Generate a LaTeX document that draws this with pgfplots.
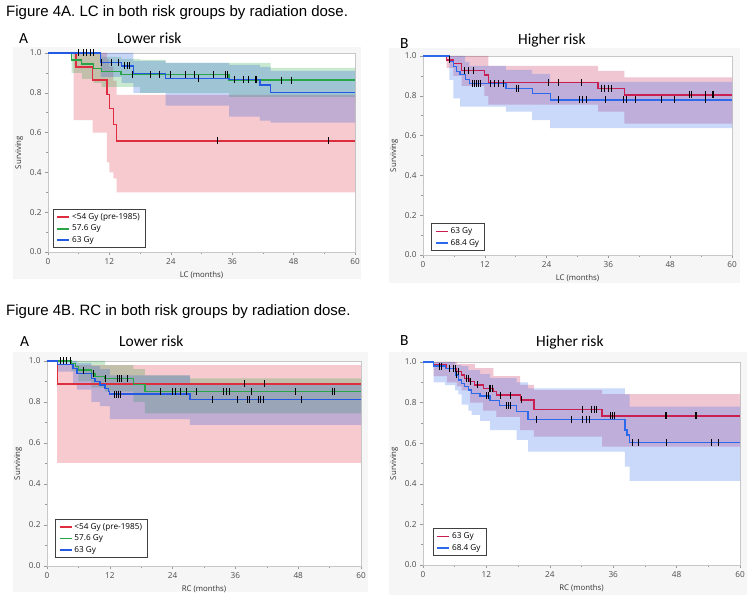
\documentclass[border=0pt]{standalone}
\usepackage{fontspec}
\setmainfont{Liberation Sans}
\newfontfamily\osans{Open Sans}
\newfontfamily\carl{Carlito}
\usepackage{pgfplots}
\pgfplotsset{compat=1.18}

\definecolor{kmred}{RGB}{222,45,62}
\definecolor{kmgreen}{RGB}{40,165,70}
\definecolor{kmblue}{RGB}{35,90,225}
\definecolor{hired}{RGB}{200,30,80}
\definecolor{hiblue}{RGB}{45,105,235}
\definecolor{panelbg}{RGB}{246,246,246}

\pgfplotsset{
  km/.style={scale only axis, xmin=0, xmax=60, ymin=0, ymax=1,
    xtick={0,12,24,36,48,60}, ytick={0,0.2,0.4,0.6,0.8,1},
    minor x tick num=1, minor y tick num=1,
    tick align=outside, tick pos=left,
    major tick length=3pt, minor tick length=2pt,
    axis line style={black!22}, tick style={black!40, line width=0.5pt},
    axis background/.style={fill=white},
    yticklabel style={/pgf/number format/.cd, fixed, fixed zerofill, precision=1},
    /pgf/number format/assume math mode=true,
    ticklabel style={font=\osans\fontsize{8.2}{9}\selectfont, text=black!70},
    label style={font=\osans\fontsize{7.8}{9}\selectfont, text=black!80},
    ylabel={Surviving},
    legend cell align=left,
    legend style={draw=black!75, line width=0.8pt, font=\osans\fontsize{8.2}{9}\selectfont,
      inner xsep=3.5pt, inner ysep=2pt, row sep=0pt, anchor=south west, fill=white},
    legend image code/.code={\draw[#1, line width=1.7pt] (0pt,0pt) -- (12pt,0pt);},
  },
  curve/.style={const plot, line width=1.35pt},
  band/.style={draw=none, fill opacity=0.25, forget plot},
  cens/.style={only marks, mark=|, mark size=3.5pt, black, mark options={line width=0.8pt}, forget plot},
}

\begin{document}
\begin{tikzpicture}
\path (0,0) rectangle (754pt,604pt);
% panel backgrounds
\fill[panelbg] (13pt,325pt) rectangle (361pt,557pt);
\fill[panelbg] (389pt,321pt) rectangle (740pt,556pt);
\fill[panelbg] (13pt,12pt) rectangle (368pt,252pt);
\fill[panelbg] (389pt,9pt) rectangle (747pt,252pt);

% captions
\node[anchor=base west, inner sep=0, font=\fontsize{15}{18}\selectfont] at (6pt,587pt) {Figure 4A. LC in both risk groups by radiation dose.};
\node[anchor=base west, inner sep=0, font=\fontsize{15}{18}\selectfont] at (6pt,288pt) {Figure 4B. RC in both risk groups by radiation dose.};
\node[anchor=base west, inner sep=0, font=\carl\fontsize{15.5}{18}\selectfont] at (19pt,560pt) {A};
\node[anchor=base west, inner sep=0, font=\carl\fontsize{15.5}{18}\selectfont] at (117pt,560pt) {Lower risk};
\node[anchor=base west, inner sep=0, font=\carl\fontsize{15.5}{18}\selectfont] at (400pt,555pt) {B};
\node[anchor=base west, inner sep=0, font=\carl\fontsize{15.5}{18}\selectfont] at (518pt,559pt) {Higher risk};
\node[anchor=base west, inner sep=0, font=\carl\fontsize{15.5}{18}\selectfont] at (20pt,257pt) {A};
\node[anchor=base west, inner sep=0, font=\carl\fontsize{15.5}{18}\selectfont] at (119pt,257pt) {Lower risk};
\node[anchor=base west, inner sep=0, font=\carl\fontsize{15.5}{18}\selectfont] at (400pt,258pt) {B};
\node[anchor=base west, inner sep=0, font=\carl\fontsize{15.5}{18}\selectfont] at (536pt,257pt) {Higher risk};

% ===== 4A lower risk =====
\begin{axis}[km, at={(48pt,352pt)}, anchor=south west, width=307pt, height=199pt,
  xlabel={LC (months)}, legend style={at={(0.015,0.019)}}]
% 95% bands (step outlines: upper forward, lower back)
\addplot[band, fill=kmred] coordinates {(0,1) (11.5,1) (11.5,0.97) (12,0.97) (12,0.93) (12.8,0.93) (12.8,0.86) (13.4,0.86) (13.4,0.79) (60,0.79)
  (60,0.30) (13.4,0.30) (13.4,0.37) (12.8,0.37) (12.8,0.40) (12,0.40) (12,0.45) (11.5,0.45) (11.5,0.60) (8.7,0.60) (8.7,0.663) (5,0.663) (5,1)} -- cycle;
\addplot[band, fill=kmgreen] coordinates {(0,1) (10.5,1) (10.5,0.98) (14.3,0.98) (14.3,0.97) (18,0.97) (18,0.965) (23,0.965) (23,0.95) (43.5,0.95) (43.5,0.925) (60,0.925)
  (60,0.78) (35.4,0.78) (35.4,0.80) (18,0.80) (18,0.83) (10.5,0.83) (10.5,0.85) (8.9,0.85) (8.9,0.87) (6.6,0.87) (6.6,0.90) (4.6,0.90) (4.6,1)} -- cycle;
\addplot[band, fill=kmblue] coordinates {(0,1) (16.7,1) (16.7,0.96) (23,0.96) (23,0.95) (35.4,0.95) (35.4,0.94) (41.4,0.94) (41.4,0.93) (43.5,0.93) (43.5,0.91) (60,0.91)
  (60,0.65) (43.5,0.65) (43.5,0.66) (41.4,0.66) (41.4,0.68) (35.4,0.68) (35.4,0.735) (23,0.735) (23,0.80) (16.7,0.80) (16.7,0.85) (14.4,0.85) (14.4,0.88) (10.3,0.88) (10.3,1)} -- cycle;
\addplot[curve, draw=kmred] coordinates {(0,1) (5.5,0.93) (8.7,0.864) (11.5,0.79) (12.0,0.72) (12.8,0.64) (13.4,0.558) (60,0.558)};
\addlegendentry{<54 Gy (pre-1985)}
\addplot[curve, draw=kmgreen] coordinates {(0,1) (4.6,0.965) (6.6,0.945) (8.9,0.923) (10.5,0.906) (14.3,0.893) (35.4,0.864) (60,0.864)};
\addlegendentry{57.6 Gy}
\addplot[curve, draw=kmblue] coordinates {(0,1) (10.3,0.953) (14.4,0.935) (16.7,0.898) (23,0.873) (35.4,0.868) (41.4,0.839) (43.5,0.803) (60,0.803)};
\addlegendentry{63 Gy}
\addplot[cens] coordinates {(5.9,1) (6.9,1) (7.6,1) (8.2,1) (8.9,1) (10.5,0.953) (12.4,0.953) (13.7,0.953)
  (15.0,0.935) (15.5,0.935) (16.0,0.935) (16.4,0.893) (20.1,0.893) (21.8,0.893) (24.0,0.893) (26.8,0.893)
  (28.7,0.893) (32.3,0.893) (34.6,0.893) (35.1,0.893) (29.4,0.873) (36.4,0.868) (38.2,0.868) (39.1,0.868)
  (40.5,0.868) (40.8,0.868) (45.7,0.864) (47.6,0.864) (33.1,0.558) (54.8,0.558)};
\end{axis}

% ===== 4A higher risk =====
\begin{axis}[km, at={(423pt,349pt)}, anchor=south west, width=309pt, height=199pt,
  xlabel={LC (months)}, legend style={at={(0.026,0.02)}}]
\addplot[band, fill=hired] coordinates {(0,1) (12.7,1) (12.7,0.95) (34,0.95) (34,0.925) (39.1,0.925) (39.1,0.893) (60,0.893)
  (60,0.66) (39.1,0.66) (39.1,0.72) (34,0.72) (34,0.755) (12.7,0.755) (12.7,0.80) (11.9,0.80) (11.9,0.85) (7.5,0.85) (7.5,0.90) (5.9,0.90) (5.9,0.94) (4.6,0.94) (4.6,1)} -- cycle;
\addplot[band, fill=hiblue] coordinates {(0,1) (8.2,1) (8.2,0.97) (9,0.97) (9,0.95) (16.1,0.95) (16.1,0.93) (21.2,0.93) (21.2,0.91) (24.7,0.91) (24.7,0.87) (60,0.87)
  (60,0.637) (24.7,0.637) (24.7,0.678) (21.2,0.678) (21.2,0.72) (16.1,0.72) (16.1,0.745) (7.2,0.745) (7.2,0.787) (5.9,0.787) (5.9,0.88) (5.1,0.88) (5.1,1)} -- cycle;
\addplot[curve, draw=hired] coordinates {(0,1) (4.6,0.98) (5.9,0.963) (7.5,0.926) (11.9,0.905) (12.7,0.868) (34.0,0.838) (39.1,0.804) (60,0.804)};
\addlegendentry{63 Gy}
\addplot[curve, draw=hiblue] coordinates {(0,1) (5.1,0.971) (5.9,0.946) (6.5,0.921) (7.2,0.908) (8.2,0.883) (9.0,0.863) (16.1,0.838) (21.2,0.813) (24.7,0.779) (60,0.779)};
\addlegendentry{68.4 Gy}
\addplot[cens] coordinates {(5.1,0.98) (8.0,0.926) (8.9,0.926) (9.8,0.926) (9.5,0.863) (9.9,0.863) (10.3,0.863)
  (10.7,0.863) (11.2,0.863) (13.0,0.863) (13.8,0.863) (14.6,0.863) (15.6,0.863) (18.1,0.838) (18.5,0.838)
  (24.3,0.868) (26.2,0.868) (30.7,0.868) (34.7,0.838) (35.3,0.838) (36.0,0.838) (36.6,0.838)
  (26.2,0.779) (30.4,0.779) (31.0,0.779) (31.8,0.779) (35.5,0.779) (38.9,0.779) (39.5,0.779) (41.2,0.779)
  (46.2,0.779) (48.9,0.779) (54.8,0.779) (51.8,0.804) (52.2,0.804) (54.8,0.804) (56.1,0.804) (56.3,0.804)};
\end{axis}

% ===== 4B lower risk =====
\begin{axis}[km, at={(47pt,38pt)}, anchor=south west, width=314pt, height=205pt,
  xlabel={RC (months)}, legend style={at={(0.025,0.039)}}]
\addplot[band, fill=kmred] coordinates {(2,0.98) (60,0.98) (60,0.50) (2,0.50)} -- cycle;
\addplot[band, fill=kmgreen] coordinates {(0,1) (11.1,1) (11.1,0.98) (16.5,0.98) (16.5,0.96) (18.7,0.96) (18.7,0.93) (27.3,0.93) (27.3,0.915) (60,0.915)
  (60,0.745) (18.7,0.745) (18.7,0.80) (16.5,0.80) (16.5,0.85) (11.1,0.85) (11.1,0.87) (8.5,0.87) (8.5,0.90) (6,0.90) (6,0.95) (4.7,0.95) (4.7,1)} -- cycle;
\addplot[band, fill=kmblue] coordinates {(0,1) (5.7,1) (5.7,0.99) (8.5,0.99) (8.5,0.975) (10.1,0.975) (10.1,0.96) (12,0.96) (12,0.93) (27.3,0.93) (27.3,0.888) (60,0.888)
  (60,0.688) (27.3,0.688) (27.3,0.717) (12,0.717) (12,0.78) (10.1,0.78) (10.1,0.80) (8.5,0.80) (8.5,0.86) (5.7,0.86) (5.7,0.89) (5,0.89) (5,0.948) (2,0.948) (2,1)} -- cycle;
\addplot[curve, draw=kmred] coordinates {(0,1) (2.0,0.888) (60,0.888)};
\addlegendentry{<54 Gy (pre-1985)}
\addplot[curve, draw=kmgreen] coordinates {(0,1) (4.7,0.989) (5.4,0.972) (6.0,0.956) (8.5,0.940) (9.2,0.923) (11.1,0.915) (16.5,0.886) (18.7,0.85) (60,0.85)};
\addlegendentry{57.6 Gy}
\addplot[curve, draw=kmblue] coordinates {(0,1) (2.0,0.984) (5.0,0.964) (5.7,0.94) (8.5,0.915) (9.2,0.899) (10.1,0.883) (11.1,0.867) (11.7,0.85) (12.0,0.839) (27.3,0.813) (60,0.813)};
\addlegendentry{63 Gy}
\addplot[cens] coordinates {(2.5,1) (3.2,1) (3.8,1) (4.4,1) (6.9,0.956) (8.8,0.94) (11.1,0.915) (13.4,0.915)
  (13.9,0.915) (14.3,0.915) (15.3,0.915) (12.8,0.839) (13.2,0.839) (13.6,0.839) (14.1,0.839)
  (21.7,0.85) (24.0,0.85) (24.5,0.85) (25.5,0.85) (26.7,0.85) (28.5,0.85) (33.7,0.85) (34.3,0.85) (34.8,0.85)
  (39.1,0.85) (47.5,0.85) (54.5,0.85) (55.0,0.85) (31.6,0.813) (36.4,0.813) (38.2,0.813) (38.7,0.813)
  (40.4,0.813) (40.8,0.813) (41.3,0.813) (48.7,0.813) (37.8,0.888) (41.5,0.888)};
\end{axis}

% ===== 4B higher risk =====
\begin{axis}[km, at={(423pt,39pt)}, anchor=south west, width=317pt, height=203pt,
  xlabel={RC (months)}, legend style={at={(0.03,0.044)}}]
\addplot[band, fill=hired] coordinates {(0,1) (6.4,1) (6.4,0.99) (9.8,0.99) (9.8,0.97) (13.3,0.97) (13.3,0.93) (18.4,0.93) (18.4,0.887) (21,0.887) (21,0.862) (33.9,0.862) (33.9,0.842) (60,0.842)
  (60,0.583) (33.9,0.583) (33.9,0.632) (21,0.632) (21,0.665) (18.4,0.665) (18.4,0.73) (13.9,0.73) (13.9,0.76) (11.4,0.76) (11.4,0.80) (8.9,0.80) (8.9,0.86) (7.3,0.86) (7.3,0.88) (6.4,0.88) (6.4,0.90) (4.5,0.90) (4.5,0.93) (2,0.93) (2,1)} -- cycle;
\addplot[band, fill=hiblue] coordinates {(0,1) (6.1,1) (6.1,0.985) (7.3,0.985) (7.3,0.98) (8.6,0.98) (8.6,0.96) (10.8,0.96) (10.8,0.94) (12.7,0.94) (12.7,0.92) (17.7,0.92) (17.7,0.90) (19.9,0.90) (19.9,0.87) (38.2,0.87) (38.2,0.84) (39.1,0.84) (39.1,0.78) (60,0.78)
  (60,0.415) (39.1,0.415) (39.1,0.484) (38.2,0.484) (38.2,0.558) (19.9,0.558) (19.9,0.616) (17.7,0.616) (17.7,0.665) (12.7,0.665) (12.7,0.71) (10.8,0.71) (10.8,0.74) (9.2,0.74) (9.2,0.76) (8.6,0.76) (8.6,0.79) (7.3,0.79) (7.3,0.84) (6.7,0.84) (6.7,0.86) (6.1,0.86) (6.1,0.886) (4.2,0.886) (4.2,0.90) (2,0.90) (2,1)} -- cycle;
\addplot[curve, draw=hired] coordinates {(0,1) (2.0,0.985) (4.5,0.969) (6.4,0.952) (7.3,0.936) (7.9,0.92) (8.9,0.903) (9.8,0.887) (11.4,0.87) (13.3,0.854) (13.9,0.837) (18.4,0.813) (21.0,0.767) (33.9,0.734) (60,0.734)};
\addlegendentry{63 Gy}
\addplot[curve, draw=hiblue] coordinates {(0,1) (2.0,0.98) (4.2,0.969) (6.1,0.936) (6.7,0.911) (7.3,0.894) (7.9,0.878) (8.6,0.862) (9.2,0.846) (10.8,0.833) (12.7,0.81) (14.5,0.785) (17.7,0.755) (19.9,0.718) (38.2,0.665) (38.6,0.64) (39.1,0.602) (60,0.602)};
\addlegendentry{68.4 Gy}
\addplot[cens] coordinates {(3.1,0.98) (3.5,0.98) (5.0,0.969) (6.1,0.969) (6.7,0.952) (8.3,0.92) (8.6,0.92)
  (8.95,0.903) (10.3,0.887) (12.6,0.87) (12.8,0.87) (13.2,0.87) (14.6,0.837) (16.6,0.837) (18.6,0.813)
  (30.2,0.767) (31.9,0.767) (32.4,0.767) (32.9,0.767) (35.5,0.734) (35.9,0.734) (36.3,0.734)
  (45.8,0.734) (46.1,0.734) (51.5,0.734) (51.8,0.734)
  (5.7,0.969) (6.4,0.936) (12.0,0.833) (12.4,0.833) (15.8,0.785) (16.2,0.785) (16.5,0.785)
  (21.5,0.718) (28.0,0.718) (30.2,0.718) (30.9,0.718) (31.5,0.718)
  (39.6,0.602) (40.8,0.602) (46.1,0.602) (54.6,0.602) (55.9,0.602)};
\end{axis}
\end{tikzpicture}
\end{document}
